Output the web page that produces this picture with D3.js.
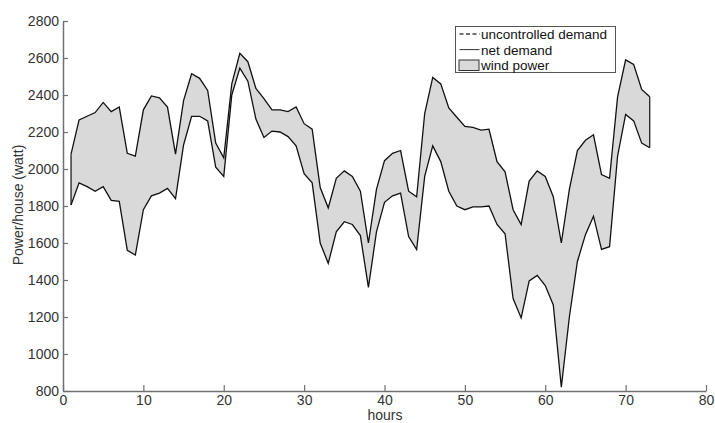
<!DOCTYPE html>
<html>
<head>
<meta charset="utf-8">
<script src="https://cdn.jsdelivr.net/npm/d3@7"></script>
<style>
  body { margin: 0; background: #fff; }
  text { font-family: "Liberation Sans", Arial, sans-serif; }
</style>
</head>
<body>
<svg id="chart" width="715" height="423"></svg>
<script>
// hours 1..73
var hours = d3.range(1, 74);

var uncontrolled = [2080, 2265, 2285, 2305, 2360, 2310, 2335, 2085, 2070, 2320,
  2395, 2385, 2335, 2080, 2370, 2515, 2490, 2425, 2140, 2060,
  2460, 2625, 2580, 2435, 2380, 2320, 2320, 2310, 2335, 2245,
  2215, 1900, 1790, 1950, 1990, 1960, 1880, 1600, 1890, 2045,
  2085, 2100, 1880, 1850, 2300, 2495, 2460, 2330, 2280, 2230,
  2225, 2210, 2215, 2040, 1985, 1780, 1700, 1935, 1990, 1960,
  1850, 1600, 1890, 2100, 2155, 2185, 1970, 1950, 2390, 2590,
  2565, 2430, 2390];

var netDemand = [1805, 1925, 1905, 1880, 1905, 1830, 1825, 1560, 1535, 1780,
  1855, 1870, 1895, 1840, 2130, 2285, 2285, 2260, 2010, 1960,
  2400, 2545, 2475, 2270, 2170, 2205, 2200, 2175, 2125, 1975,
  1925, 1600, 1490, 1660, 1715, 1700, 1640, 1360, 1660, 1820,
  1855, 1870, 1635, 1565, 1960, 2125, 2040, 1880, 1800, 1780,
  1795, 1795, 1800, 1700, 1650, 1300, 1195, 1395, 1425, 1370,
  1265, 820, 1200, 1500, 1645, 1745, 1565, 1580, 2070, 2295,
  2260, 2140, 2115];

var xTicks = [0, 10, 20, 30, 40, 50, 60, 70, 80];
var yTicks = [800, 1000, 1200, 1400, 1600, 1800, 2000, 2200, 2400, 2600, 2800];
var legendLabels = ["uncontrolled demand", "net demand", "wind power"];

var margin = {top: 21, left: 63};

var svg = d3.select("#chart");
var g = svg.append("g").attr("transform", "translate(" + margin.left + "," + margin.top + ")");

var x = d3.scaleLinear().domain([0, 80]).range([0, 643]);
var y = d3.scaleLinear().domain([800, 2800]).range([370, 0]);

var data = hours.map(function(h, i) {
  return {h: h, up: uncontrolled[i], lo: netDemand[i]};
});

// wind power band
var area = d3.area()
  .x(function(d) { return x(d.h); })
  .y0(function(d) { return y(d.lo); })
  .y1(function(d) { return y(d.up); });

g.append("path").datum(data)
  .attr("d", area)
  .attr("fill", "#d9d9d9")
  .attr("stroke", "none");

var upLine = d3.line().x(function(d) { return x(d.h); }).y(function(d) { return y(d.up); });
var loLine = d3.line().x(function(d) { return x(d.h); }).y(function(d) { return y(d.lo); });

// closing edges of the band
g.append("path").datum(data)
  .attr("d", function(d) {
    var a = d[0], b = d[d.length - 1];
    return "M" + x(a.h) + "," + y(a.up) + "L" + x(a.h) + "," + y(a.lo) +
      "M" + x(b.h) + "," + y(b.up) + "L" + x(b.h) + "," + y(b.lo);
  })
  .attr("stroke", "#111").attr("stroke-width", 1.2).attr("fill", "none");

g.append("path").datum(data)
  .attr("d", upLine)
  .attr("fill", "none").attr("stroke", "#111").attr("stroke-width", 1.3);

g.append("path").datum(data)
  .attr("d", loLine)
  .attr("fill", "none").attr("stroke", "#111").attr("stroke-width", 1.3);

// axes
var axisColor = "#707070";
var xAxis = d3.axisBottom(x).tickValues(xTicks).tickFormat(d3.format("d"))
  .tickSizeInner(-6).tickSizeOuter(0).tickPadding(4);
var yAxis = d3.axisLeft(y).tickValues(yTicks).tickFormat(d3.format("d"))
  .tickSizeInner(-5).tickSizeOuter(0).tickPadding(4);

var gx = g.append("g").attr("transform", "translate(0,370)").call(xAxis);
var gy = g.append("g").call(yAxis);

[gx, gy].forEach(function(a) {
  a.select(".domain").attr("stroke", axisColor).attr("stroke-width", 1.5);
  a.selectAll(".tick line").attr("stroke", axisColor).attr("stroke-width", 1.2);
  a.selectAll(".tick text").attr("fill", "#333").style("font-size", "14px")
    .style("font-family", "'Liberation Sans', Arial, sans-serif");
});
gx.selectAll(".tick text").attr("dy", "0.7em");

// axis labels
svg.append("text")
  .attr("x", 385).attr("y", 420)
  .attr("text-anchor", "middle")
  .attr("fill", "#333").style("font-size", "14px")
  .text("hours");

svg.append("text")
  .attr("transform", "translate(23,205) rotate(-90)")
  .attr("text-anchor", "middle")
  .attr("fill", "#333").style("font-size", "14px")
  .text("Power/house (watt)");

// legend
var lg = svg.append("g").attr("transform", "translate(455.5,26.5)");
lg.append("rect").attr("width", 160).attr("height", 46)
  .attr("fill", "#fff").attr("stroke", "#555").attr("stroke-width", 1);

var rowY = [7.5, 23.1, 38.7];
lg.append("line").attr("x1", 4).attr("x2", 24).attr("y1", rowY[0]).attr("y2", rowY[0])
  .attr("stroke", "#444").attr("stroke-width", 1.3).attr("stroke-dasharray", "4,2.5");
lg.append("line").attr("x1", 4).attr("x2", 24).attr("y1", rowY[1]).attr("y2", rowY[1])
  .attr("stroke", "#333").attr("stroke-width", 1);
lg.append("rect").attr("x", 3.5).attr("y", 33.5).attr("width", 20).attr("height", 10.5)
  .attr("fill", "#d9d9d9").attr("stroke", "#333").attr("stroke-width", 1);

lg.selectAll("text.lab").data(legendLabels).enter().append("text")
  .attr("class", "lab")
  .attr("x", 25.5)
  .attr("y", function(d, i) { return rowY[i] + 5; })
  .attr("fill", "#111").style("font-size", "13.5px")
  .text(function(d) { return d; });
</script>
</body>
</html>
